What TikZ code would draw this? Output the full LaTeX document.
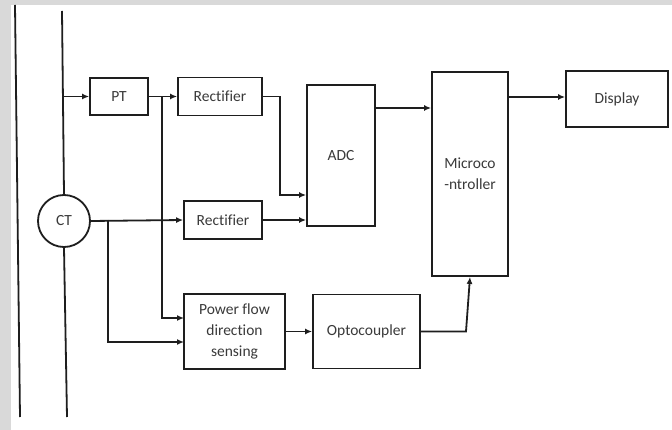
\documentclass[tikz,border=0pt]{standalone}
\usepackage{fontspec}
\setmainfont{Carlito}[Ligatures=NoCommon]
\usetikzlibrary{arrows.meta,calc}
\definecolor{bandgrey}{HTML}{D9D9D9}
\definecolor{ink}{HTML}{1E1E1E}
\definecolor{txt}{HTML}{3A3A3A}
\begin{document}
\begin{tikzpicture}[x=1pt,y=-1pt,
  line width=1.8pt,
  box/.style={draw=ink,line width=1.8pt,rectangle,inner sep=0pt,align=center,
    font=\fontsize{15.5}{21}\selectfont,text=txt},
  arr/.style={draw=ink,line width=1.8pt,-{Latex[length=7pt,width=6pt]}},
  wire/.style={draw=ink,line width=1.8pt}]
\useasboundingbox (0,0) rectangle (672,430);
\fill[white] (0,0) rectangle (672,430);
\fill[bandgrey] (0,0) rectangle (11,430);
\fill[bandgrey] (0,0) rectangle (672,5);

% nodes
\node[box,minimum width=58pt,minimum height=37pt] (pt) at (119,96.5) {PT};
\node[box,minimum width=84pt,minimum height=38pt] (rect1) at (220,96.5) {Rectifier};
\node[box,minimum width=68pt,minimum height=141pt] (adc) at (341,155.5) {ADC};
\node[box,minimum width=78pt,minimum height=38pt] (rect2) at (223,220) {Rectifier};
\node[box,minimum width=101pt,minimum height=75pt] (pf) at (234.5,331.5) {Power flow\\direction\\sensing};
\node[box,minimum width=107pt,minimum height=74pt] (opto) at (366.5,331.5) {Optocoupler};
\node[box,minimum width=76pt,minimum height=204pt] (micro) at (470,174) {Microco\\-ntroller};
\node[box,minimum width=102pt,minimum height=56pt] (disp) at (617,99) {Display};
\node[draw=ink,line width=1.8pt,circle,minimum size=52pt,inner sep=0pt,
  font=\fontsize{15.5}{21}\selectfont,text=txt] (ct) at (64,221) {CT};

% coordinates
\coordinate (ltop) at (15,5);
\coordinate (lbot) at (20,417);
\coordinate (ptop) at (62,11);
\coordinate (pbot) at (67,417);
\coordinate (j0) at (62,96.5);
\coordinate (j1) at (162,96.5);
\coordinate (j2) at (108,220);
\coordinate (k1) at (280,195);
\coordinate (k2) at (466,331.5);
\coordinate (pfin1) at (184,318);
\coordinate (pfin2) at (184,342);
\coordinate (adcout) at (375,108);
\coordinate (micout) at (508,97);

% lines
\draw[wire] (ltop) -- (lbot);
\draw[wire] (ptop) -- (ct.north);
\draw[wire] (ct.south) -- (pbot);
\draw[arr] (j0) -- (pt.west);
\draw[arr] (pt.east) -- (rect1.west);
\draw[arr] (j1) |- (pfin1);
\draw[arr] (rect1.east) -| (k1) -- (k1 -| adc.west);
\draw[arr] (ct.east) -- (rect2.west);
\draw[arr] (j2) |- (pfin2);
\draw[arr] (rect2.east) -- (rect2.east -| adc.west);
\draw[arr] (pf.east) -- (opto.west);
\draw[arr] (opto.east) -- (k2) -- (micro.south);
\draw[arr] (adcout) -- (adcout -| micro.west);
\draw[arr] (micout) -- (micout -| disp.west);
\end{tikzpicture}
\end{document}
